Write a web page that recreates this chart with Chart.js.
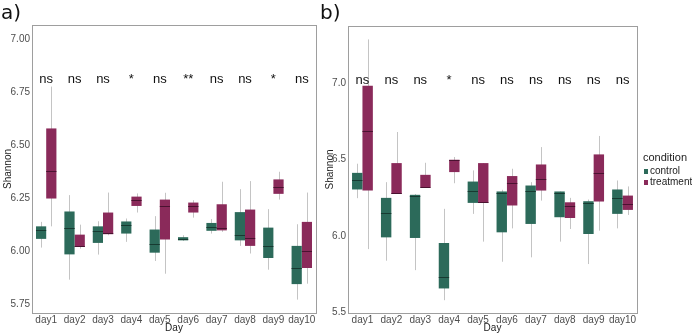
<!DOCTYPE html>
<html>
<head>
<meta charset="utf-8">
<script src="https://cdn.jsdelivr.net/npm/chart.js@4"></script>
<style>
  body { margin: 0; background: #fff; }
  #wrap { position: relative; width: 692px; height: 334px; font-family: "Liberation Sans", Arial, sans-serif; }
  canvas { position: absolute; top: 0; }
  .tag { position: absolute; font-family: "DejaVu Sans", sans-serif; font-size: 20px; color: #111; line-height: 1; }
  .leg { position: absolute; font-size: 10px; color: #222; line-height: 1; white-space: nowrap; }
  .sw { display: inline-block; width: 4px; height: 5px; margin-right: 2px; vertical-align: 0px; }
</style>
</head>
<body>
<div id="wrap">
  <canvas id="chartA" width="322" height="334" style="left:0"></canvas>
  <canvas id="chartB" width="370" height="334" style="left:322px"></canvas>
  <div class="tag" style="left:1px;top:2px">a)</div>
  <div class="tag" style="left:320px;top:2px">b)</div>
  <div class="leg" style="left:643px;top:152px;font-size:11px">condition</div>
  <div class="leg" style="left:644px;top:166px"><span class="sw" style="background:#2c6a5a"></span>control</div>
  <div class="leg" style="left:644px;top:177px"><span class="sw" style="background:#8a2a5a"></span>treatment</div>
</div>
<script>
// each box: [min, q1, median, q3, max]
const days = ['day1', 'day2', 'day3', 'day4', 'day5', 'day6', 'day7', 'day8', 'day9', 'day10'];

const controlA = [
    [6.019, 6.060, 6.101, 6.119, 6.140],
    [5.868, 5.987, 6.112, 6.189, 6.266],
    [5.986, 6.041, 6.096, 6.119, 6.143],
    [6.046, 6.085, 6.124, 6.142, 6.156],
    [5.956, 5.995, 6.038, 6.104, 6.167],
    [6.050, 6.053, 6.060, 6.068, 6.077],
    [6.085, 6.098, 6.115, 6.135, 6.153],
    [6.027, 6.053, 6.080, 6.186, 6.294],
    [5.915, 5.970, 6.028, 6.113, 6.200],
    [5.774, 5.847, 5.925, 6.027, 6.129]
];
const treatmentA = [
    [6.119, 6.250, 6.379, 6.580, 6.777],
    [6.014, 6.022, 6.025, 6.080, 6.127],
    [6.077, 6.082, 6.090, 6.184, 6.278],
    [6.184, 6.215, 6.245, 6.259, 6.274],
    [5.896, 6.057, 6.214, 6.245, 6.277],
    [6.160, 6.184, 6.215, 6.231, 6.242],
    [6.093, 6.100, 6.112, 6.223, 6.329],
    [5.991, 6.027, 6.066, 6.198, 6.332],
    [6.245, 6.272, 6.303, 6.340, 6.376],
    [5.849, 5.923, 6.002, 6.140, 6.278]
];
const controlB = [
    [6.248, 6.305, 6.364, 6.414, 6.474],
    [5.838, 5.991, 6.149, 6.250, 6.353],
    [5.776, 5.987, 6.265, 6.270, 6.275],
    [5.579, 5.656, 5.732, 5.954, 6.178],
    [6.145, 6.217, 6.292, 6.357, 6.430],
    [5.831, 6.024, 6.281, 6.292, 6.303],
    [5.860, 6.079, 6.298, 6.331, 6.353],
    [5.963, 6.123, 6.283, 6.292, 6.292],
    [5.816, 6.013, 6.215, 6.228, 6.239],
    [6.050, 6.145, 6.248, 6.305, 6.364]
];
const treatmentB = [
    [5.914, 6.298, 6.686, 6.985, 7.289],
    [6.276, 6.276, 6.280, 6.478, 6.682],
    [6.320, 6.320, 6.322, 6.401, 6.480],
    [6.346, 6.419, 6.496, 6.500, 6.518],
    [5.963, 6.217, 6.220, 6.478, 6.478],
    [6.050, 6.200, 6.346, 6.393, 6.441],
    [6.232, 6.298, 6.371, 6.469, 6.583],
    [6.046, 6.118, 6.195, 6.221, 6.250],
    [6.035, 6.226, 6.414, 6.535, 6.656],
    [6.138, 6.171, 6.211, 6.265, 6.325]
];

const sigA = ['ns', 'ns', 'ns', '*', 'ns', '**', 'ns', 'ns', '*', 'ns'];
const sigB = ['ns', 'ns', 'ns', '*', 'ns', 'ns', 'ns', 'ns', 'ns', 'ns'];
const sigYA = 6.81;
const sigYB = 7.02;

const ticksA = [5.75, 6.00, 6.25, 6.50, 6.75, 7.00];
const ticksB = [5.5, 6.0, 6.5, 7.0];

const CONTROL = '#2c6a5a';
const TREATMENT = '#8a2a5a';
const MEDIAN = ['#173a31', '#4a1230'];
const WHISKER = '#c4c4c4';

// whiskers behind boxes, medians + border + significance on top
const boxPlugin = {
    id: 'boxPlugin',
    beforeDatasetsDraw(chart) {
        const ctx = chart.ctx;
        const y = chart.scales.y;
        ctx.save();
        ctx.strokeStyle = WHISKER;
        ctx.lineWidth = 1;
        chart.data.datasets.forEach((ds, di) => {
            chart.getDatasetMeta(di).data.forEach((bar, i) => {
                const s = ds.stats[i];
                const x = Math.round(bar.x) + 0.5;
                ctx.beginPath();
                ctx.moveTo(x, y.getPixelForValue(s[0]));
                ctx.lineTo(x, y.getPixelForValue(s[4]));
                ctx.stroke();
            });
        });
        ctx.restore();
    },
    afterDatasetsDraw(chart) {
        const ctx = chart.ctx;
        const y = chart.scales.y;
        ctx.save();
        ctx.lineWidth = 1;
        chart.data.datasets.forEach((ds, di) => {
            ctx.strokeStyle = MEDIAN[di];
            chart.getDatasetMeta(di).data.forEach((bar, i) => {
                const m = Math.round(y.getPixelForValue(ds.stats[i][2])) + 0.5;
                ctx.beginPath();
                ctx.moveTo(bar.x - bar.width / 2, m);
                ctx.lineTo(bar.x + bar.width / 2, m);
                ctx.stroke();
            });
        });
        const a = chart.chartArea;
        ctx.strokeStyle = '#9e9e9e';
        ctx.strokeRect(Math.round(a.left) + 0.5, Math.round(a.top) + 0.5,
            Math.round(a.right - a.left), Math.round(a.bottom - a.top));
        const o = chart.options.plugins.boxPlugin;
        ctx.fillStyle = '#111';
        ctx.font = '13px "Liberation Sans", Arial, sans-serif';
        ctx.textAlign = 'center';
        ctx.textBaseline = 'middle';
        o.labels.forEach((t, i) => {
            ctx.fillText(t, chart.scales.x.getPixelForValue(i), y.getPixelForValue(o.labelY));
        });
        ctx.restore();
    }
};

function makeChart(id, ctrl, treat, opts) {
    const tickFont = { family: '"Liberation Sans", Arial, sans-serif', size: 10 };
    return new Chart(document.getElementById(id), {
        type: 'bar',
        data: {
            labels: days,
            datasets: [
                { label: 'control', data: ctrl.map(b => [b[1], b[3]]), stats: ctrl,
                  backgroundColor: CONTROL, borderWidth: 0 },
                { label: 'treatment', data: treat.map(b => [b[1], b[3]]), stats: treat,
                  backgroundColor: TREATMENT, borderWidth: 0 }
            ]
        },
        options: {
            responsive: false,
            animation: false,
            devicePixelRatio: 1,
            categoryPercentage: 0.72,
            barPercentage: 1,
            layout: { padding: opts.padding },
            plugins: {
                legend: { display: false },
                tooltip: { enabled: false },
                boxPlugin: { labels: opts.sig, labelY: opts.sigY }
            },
            scales: {
                x: {
                    grid: { display: false, drawTicks: false },
                    border: { display: false },
                    ticks: { color: '#4d4d4d', font: tickFont, padding: 1, maxRotation: 0, autoSkip: false },
                    title: { display: true, text: 'Day', color: '#222', font: { family: tickFont.family, size: 10 }, padding: 0 },
                    afterFit: s => { s.height = 21; }
                },
                y: {
                    min: opts.min,
                    max: opts.max,
                    grid: { display: false, drawTicks: false },
                    border: { display: false },
                    afterBuildTicks: s => { s.ticks = opts.ticks.map(v => ({ value: v })); },
                    ticks: { color: '#4d4d4d', font: tickFont, padding: 2, callback: v => v.toFixed(opts.dec) },
                    title: { display: true, text: 'Shannon', color: '#222', font: { family: tickFont.family, size: 10 }, padding: { top: 2, bottom: 0 } },
                    afterFit: s => { s.width = opts.yWidth; }
                }
            }
        },
        plugins: [boxPlugin]
    });
}

makeChart('chartA', controlA, treatmentA, {
    min: 5.711, max: 7.067, ticks: ticksA, dec: 2, yWidth: 32,
    sig: sigA, sigY: sigYA,
    padding: { top: 25, right: 6, bottom: 0, left: 0 }
});
makeChart('chartB', controlB, treatmentB, {
    min: 5.495, max: 7.377, ticks: ticksB, dec: 1, yWidth: 26,
    sig: sigB, sigY: sigYB,
    padding: { top: 26, right: 55, bottom: 0, left: 0 }
});
</script>
</body>
</html>
